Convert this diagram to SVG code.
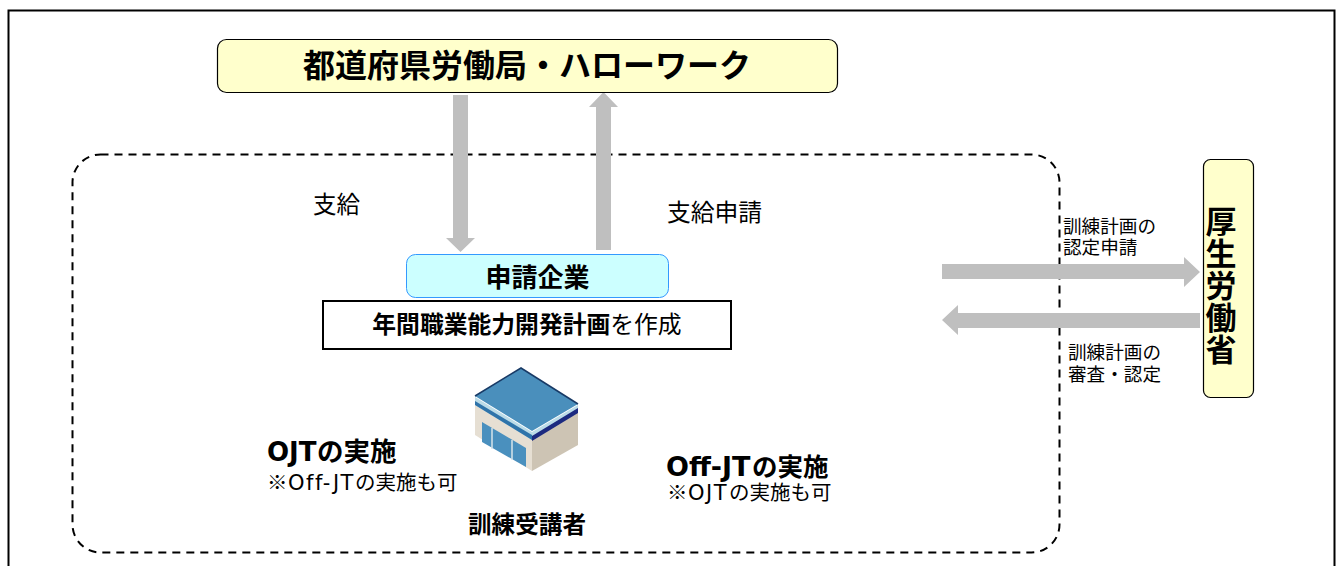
<svg xmlns="http://www.w3.org/2000/svg" width="1339" height="566" viewBox="0 0 1339 566">
<style>
text{font-family:"DejaVu Sans","Noto Sans CJK JP",sans-serif;fill:#000}
.jp{font-family:"Noto Sans CJK JP",sans-serif}
.b{font-weight:700}
.arrow{fill:#bfbfbf}
.yl{fill:#ffffcc;stroke:#000;stroke-width:1.200}
</style>
<rect width="1339" height="566" fill="#fff"/>
<path d="M8.500 566V10.500H1334.500V566" fill="none" stroke="#000" stroke-width="2"/>
<g id="area"><rect x="72.500" y="154.500" width="987" height="398" rx="28" fill="none" stroke="#000" stroke-width="2" stroke-dasharray="8 6"/></g>
<g id="connectors">
<path class="arrow" d="M453 95H468V238H475L460.500 252L446 238H453Z"/>
<path class="arrow" d="M596 250V107H589L603.500 92L618 107H611V250Z"/>
<path class="arrow" d="M942 264H1184V257L1200 272L1184 287V279H942Z"/>
<path class="arrow" d="M1200 313V328H958V335L942 320L958 305V313Z"/>
</g>
<g id="labour-bureau"><rect class="yl" x="217.500" y="39.500" width="620" height="53" rx="9"/>
<text class="jp b" x="527" y="77" font-size="32" text-anchor="middle">都道府県労働局・ハローワーク</text></g>
<g id="mhlw"><rect class="yl" x="1203.500" y="159.500" width="50" height="238" rx="7"/>
<text class="jp b" font-size="31" text-anchor="middle"><tspan x="1221" y="233">厚</tspan><tspan x="1221" y="265">生</tspan><tspan x="1221" y="297">労</tspan><tspan x="1221" y="329">働</tspan><tspan x="1221" y="361">省</tspan></text></g>
<g id="applicant"><rect x="406.500" y="254.500" width="262" height="43" rx="9" fill="#ccffff" stroke="#3399ff"/>
<text class="jp b" x="537.500" y="287" font-size="26" text-anchor="middle">申請企業</text></g>
<g id="plan"><rect x="323" y="301" width="408" height="48" fill="#fff" stroke="#000" stroke-width="2"/>
<text class="jp" x="527" y="333" font-size="23.800" text-anchor="middle"><tspan font-weight="700">年間職業能力開発計画</tspan>を作成</text></g>
<g id="building">
<path d="M475 403V435L532 471L532 438Z" fill="#e6dfd3"/>
<path d="M532 471L578 445V410L532 438Z" fill="#cdc4b4"/>
<path d="M482 422L526 448V467L482 442Z" fill="#4a90be"/>
<path d="M492 428V449M512 440V460" stroke="#d6e4ea" stroke-width="1.500"/>
<path d="M475 397L532 432L578 405V412L532 440L475 405Z" fill="#bcdce8"/>
<path d="M475 401L532 435V440L475 405Z" fill="#2f74aa"/>
<path d="M532 436L578 408V413L532 441Z" fill="#1c2a80"/>
<path d="M475 396L521 368L578 404L532 431Z" fill="#4a8fbc"/>
<path d="M475 396L521 368L578 404" fill="none" stroke="#183a66" stroke-width="1.500"/>
</g>
<g id="texts">
<text class="jp" x="336.500" y="213" font-size="23.500" text-anchor="middle">支給</text>
<text class="jp" x="714.500" y="221" font-size="23.800" text-anchor="middle">支給申請</text>
<text class="jp" font-size="18.600"><tspan x="1063" y="233">訓練計画の</tspan><tspan x="1063" y="254">認定申請</tspan></text>
<text class="jp" font-size="18.600"><tspan x="1068" y="359">訓練計画の</tspan><tspan x="1068" y="381">審査・認定</tspan></text>
<text class="b" font-size="26.500" y="461"><tspan x="267" font-size="26">OJT</tspan><tspan class="jp" x="317">の実施</tspan></text>
<text font-size="20.500" y="490"><tspan class="jp" x="267">※</tspan><tspan x="288" font-size="21" letter-spacing="1.500">Off-JT</tspan><tspan class="jp" x="355">の実施も可</tspan></text>
<text class="b" font-size="25.500" y="476"><tspan x="666" font-size="27">Off-JT</tspan><tspan class="jp" x="752">の実施</tspan></text>
<text font-size="20.500" y="500"><tspan class="jp" x="667">※</tspan><tspan x="688" font-size="21" letter-spacing="1.500">OJT</tspan><tspan class="jp" x="729">の実施も可</tspan></text>
<text class="jp b" x="527" y="533" font-size="23.600" text-anchor="middle">訓練受講者</text>
</g>
</svg>
